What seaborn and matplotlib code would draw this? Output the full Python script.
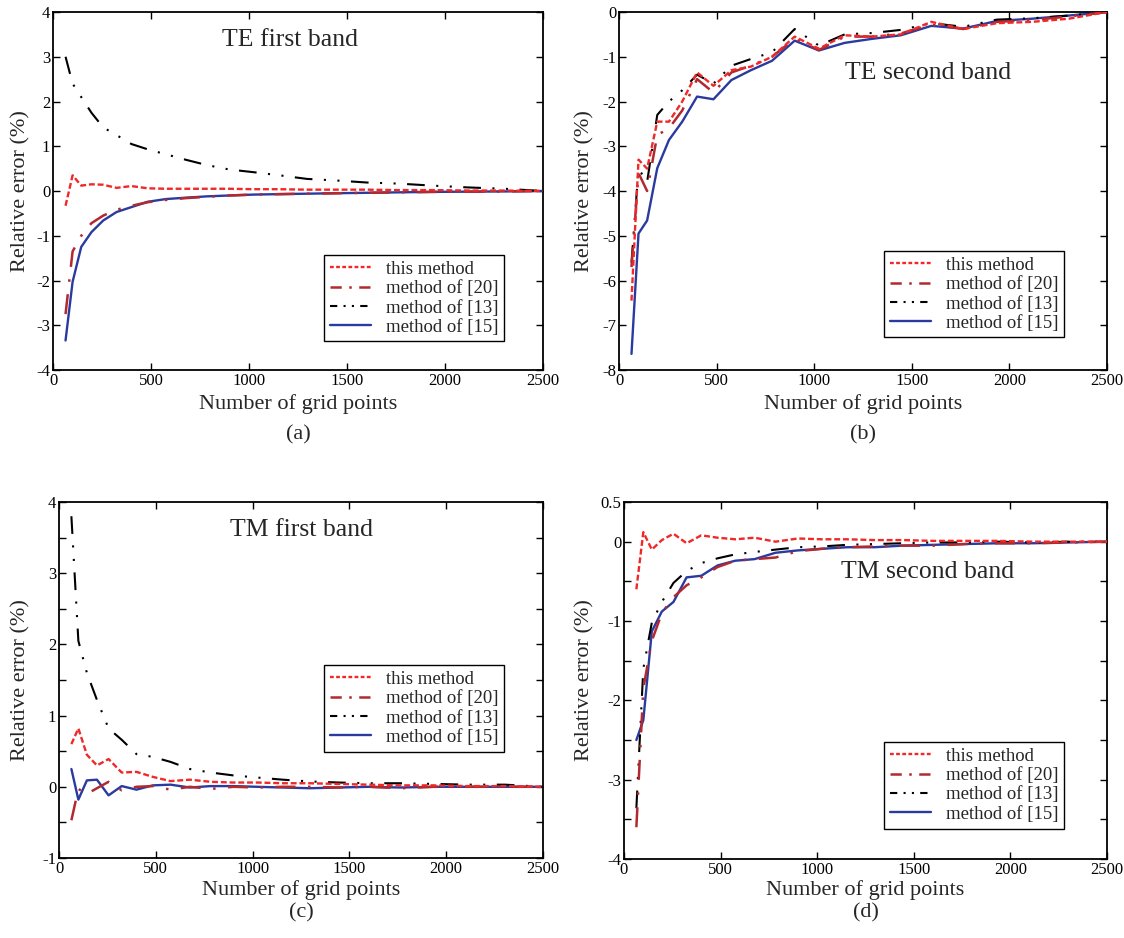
import numpy as np
import pandas as pd
import matplotlib
matplotlib.use("Agg")
import matplotlib.pyplot as plt
from matplotlib.lines import Line2D
import seaborn as sns

# ---------------- data ----------------
grid_points = [64, 100, 144, 196, 256, 324, 400, 484, 576, 676, 784, 900,
               1024, 1156, 1296, 1444, 1600, 1764, 1936, 2116, 2304, 2500]

series_labels = ["this method", "method of [20]", "method of [13]", "method of [15]"]

# (a) TE first band
te1_this = [-0.33, 0.35, 0.12, 0.15, 0.14, 0.07, 0.11, 0.06, 0.05, 0.05, 0.05, 0.05,
            0.04, 0.04, 0.03, 0.03, 0.03, 0.02, 0.02, 0.01, 0.01, 0.0]
te1_m20 = [-2.75, -1.35, -1.0, -0.72, -0.55, -0.42, -0.33, -0.25, -0.2, -0.16, -0.13, -0.1,
           -0.08, -0.07, -0.06, -0.05, -0.04, -0.03, -0.02, -0.015, -0.01, 0.0]
te1_m13 = [3.0, 2.4, 2.1, 1.75, 1.42, 1.25, 1.05, 0.93, 0.82, 0.7, 0.58, 0.48,
           0.42, 0.35, 0.27, 0.235, 0.19, 0.165, 0.12, 0.08, 0.05, 0.0]
te1_m15 = [-3.34, -2.03, -1.25, -0.92, -0.66, -0.47, -0.36, -0.24, -0.18, -0.15, -0.12, -0.1,
           -0.08, -0.07, -0.06, -0.05, -0.04, -0.03, -0.02, -0.015, -0.01, 0.0]

# (b) TE second band
te2_this = [-6.45, -3.3, -3.5, -2.45, -2.45, -2.0, -1.35, -1.65, -1.3, -1.22, -1.0, -0.55,
            -0.82, -0.52, -0.55, -0.5, -0.22, -0.38, -0.25, -0.22, -0.15, 0.0]
te2_m20 = [-5.7, -3.6, -4.0, -2.75, -2.6, -2.2, -1.5, -1.8, -1.35, -1.2, -1.0, -0.6,
           -0.85, -0.55, -0.55, -0.48, -0.28, -0.38, -0.22, -0.18, -0.1, 0.0]
te2_m13 = [-5.6, -3.5, -3.8, -2.3, -2.0, -1.75, -1.4, -1.6, -1.2, -1.05, -0.9, -0.38,
           -0.75, -0.5, -0.47, -0.4, -0.25, -0.33, -0.17, -0.14, -0.08, 0.0]
te2_m15 = [-7.64, -4.95, -4.66, -3.49, -2.86, -2.45, -1.89, -1.95, -1.52, -1.3, -1.09, -0.64,
           -0.86, -0.69, -0.6, -0.52, -0.31, -0.37, -0.2, -0.15, -0.08, 0.0]

# (c) TM first band
tm1_this = [0.6, 0.82, 0.45, 0.3, 0.39, 0.2, 0.21, 0.14, 0.08, 0.1, 0.07, 0.06,
            0.06, 0.05, 0.05, 0.04, 0.03, 0.02, 0.02, 0.01, 0.01, 0.0]
tm1_m20 = [-0.47, -0.03, -0.1, -0.02, 0.07, -0.05, 0.0, 0.01, -0.04, 0.0, -0.03, 0.0,
           -0.01, 0.0, 0.0, -0.01, 0.0, -0.02, 0.0, 0.0, 0.0, 0.0]
tm1_m13 = [3.8, 2.05, 1.6, 1.22, 0.82, 0.66, 0.46, 0.42, 0.35, 0.25, 0.2, 0.16,
           0.13, 0.1, 0.075, 0.06, 0.05, 0.05, 0.04, 0.03, 0.03, 0.0]
tm1_m15 = [0.25, -0.18, 0.09, 0.1, -0.12, 0.01, -0.04, 0.02, 0.03, -0.01, 0.01, 0.01,
           0.0, -0.01, -0.02, -0.01, 0.0, -0.01, 0.0, 0.0, 0.0, 0.0]

# (d) TM second band
tm2_this = [-0.6, 0.12, -0.1, 0.02, 0.1, -0.02, 0.08, 0.05, 0.03, 0.05, 0.0, 0.04,
            0.03, 0.03, 0.02, 0.02, 0.01, 0.01, 0.01, 0.0, 0.0, 0.0]
tm2_m20 = [-3.6, -1.85, -1.25, -0.9, -0.7, -0.55, -0.45, -0.32, -0.24, -0.22, -0.2, -0.12,
           -0.09, -0.07, -0.06, -0.05, -0.05, -0.03, -0.02, -0.02, -0.01, 0.0]
tm2_m13 = [-3.36, -1.6, -1.02, -0.76, -0.52, -0.37, -0.27, -0.21, -0.16, -0.13, -0.1, -0.07,
           -0.06, -0.04, -0.03, -0.02, -0.01, -0.01, 0.0, -0.01, 0.0, 0.0]
tm2_m15 = [-2.5, -2.25, -1.13, -0.88, -0.76, -0.45, -0.43, -0.3, -0.24, -0.22, -0.14, -0.11,
           -0.09, -0.07, -0.07, -0.05, -0.04, -0.03, -0.02, -0.02, -0.01, 0.0]

panel_titles = ["TE first band", "TE second band", "TM first band", "TM second band"]
panel_captions = ["(a)", "(b)", "(c)", "(d)"]
x_label = "Number of grid points"
y_label = "Relative error (%)"

# ---------------- style ----------------
sns.set_style("ticks")
plt.rcParams["font.family"] = ["Liberation Serif", "DejaVu Serif"]

W, H = 1124, 938
fig = plt.figure(figsize=(W / 100, H / 100), dpi=100)

colors = ["#f02828", "#b02a30", "#000000", "#2a3a9e"]
styles = [(0, (2.5, 1.2)), (0, (8, 5, 1, 5)), (0, (8.5, 5.5, 1, 5.5, 1, 5.5)), "-"]
legend_styles = [(0, (1.6, 1.0)), (0, (4.5, 3, 1, 3)), (0, (3.5, 3, 1, 3, 1, 3)), "-"]
widths = [1.7, 1.8, 1.5, 1.7]
zorders = [5, 4, 3, 2]

def box(l, t, r, b):
    return [l / W, 1 - b / H, (r - l) / W, (b - t) / H]

panels = [
    dict(rect=box(53, 12, 543, 370), data=[te1_this, te1_m20, te1_m13, te1_m15],
         ylim=(-4, 4), yticks=np.arange(-4, 4.01, 1), ylabels=None,
         title_xy=(290, 40), legend_xy=(324, 255), ylabel_x=21),
    dict(rect=box(619, 12, 1107, 370), data=[te2_this, te2_m20, te2_m13, te2_m15],
         ylim=(-8, 0), yticks=np.arange(-8, 0.01, 1), ylabels=None,
         title_xy=(928, 73), legend_xy=(884, 251), ylabel_x=585),
    dict(rect=box(59, 502, 543, 858), data=[tm1_this, tm1_m20, tm1_m13, tm1_m15],
         ylim=(-1, 4), yticks=np.arange(-1, 4.01, 0.5), ylabels="int",
         title_xy=(302, 530), legend_xy=(324, 665), ylabel_x=21),
    dict(rect=box(624, 502, 1107, 859), data=[tm2_this, tm2_m20, tm2_m13, tm2_m15],
         ylim=(-4, 0.5), yticks=np.arange(-4, 0.51, 0.5), ylabels="d",
         title_xy=(928, 572), legend_xy=(884, 742), ylabel_x=585),
]

caption_y = [435, 435, 913, 913]
xlabel_y = [404, 404, 890, 890]

for i, p in enumerate(panels):
    ax = fig.add_axes(p["rect"])
    for k in [3, 2, 1, 0]:
        df = pd.DataFrame({"x": grid_points, "y": p["data"][k]})
        sns.lineplot(data=df, x="x", y="y", ax=ax, color=colors[k],
                     linestyle=styles[k], linewidth=widths[k], label=series_labels[k],
                     legend=False, zorder=zorders[k])
    handles = [Line2D([], [], color=colors[k], linestyle=legend_styles[k],
                      linewidth=widths[k]) for k in range(4)]
    ax.set_xlim(0, 2500)
    ax.set_ylim(*p["ylim"])
    ax.set_xticks(np.arange(0, 2501, 500))
    ax.set_yticks(p["yticks"])
    if p["ylabels"] == "int":
        ax.set_yticklabels([("%d" % v) if abs(v - round(v)) < 1e-9 else "" for v in p["yticks"]])
    elif p["ylabels"] == "d":
        lab = []
        for v in p["yticks"]:
            if abs(v - 0.5) < 1e-9:
                lab.append("0.5")
            elif abs(v - round(v)) < 1e-9:
                lab.append("%d" % v)
            else:
                lab.append("")
        ax.set_yticklabels(lab)
    else:
        ax.set_yticklabels(["%d" % v for v in p["yticks"]])
    ax.tick_params(direction="in", top=True, right=True, length=5, width=1,
                   labelsize=12, pad=2, colors="black")
    for s in ax.spines.values():
        s.set_linewidth(1.3)
        s.set_color("black")
    ax.set_xlabel("")
    ax.set_ylabel("")
    tx, ty = p["title_xy"]
    fig.text(tx / W, 1 - ty / H, panel_titles[i], ha="center", va="center", fontsize=18.5)
    cx = (p["rect"][0] + p["rect"][2] / 2)
    fig.text(cx, 1 - xlabel_y[i] / H, x_label, ha="center", va="center", fontsize=16)
    fig.text(cx, 1 - caption_y[i] / H, panel_captions[i], ha="center", va="center", fontsize=16)
    cy = p["rect"][1] + p["rect"][3] / 2
    fig.text(p["ylabel_x"] / W, cy, y_label, ha="center", va="center", rotation=90, fontsize=16)
    lx, ly = p["legend_xy"]
    leg = ax.legend(handles, series_labels, loc="upper left",
                    bbox_to_anchor=(lx / W, 1 - ly / H), bbox_transform=fig.transFigure,
                    fontsize=13.5, frameon=True, fancybox=False, framealpha=1,
                    edgecolor="black", handlelength=2.2, handletextpad=0.8,
                    borderpad=0.3, labelspacing=0.12, borderaxespad=0)
    leg.get_frame().set_linewidth(1.0)
    leg.set_zorder(10)

fig.savefig("out.png", dpi=100)
